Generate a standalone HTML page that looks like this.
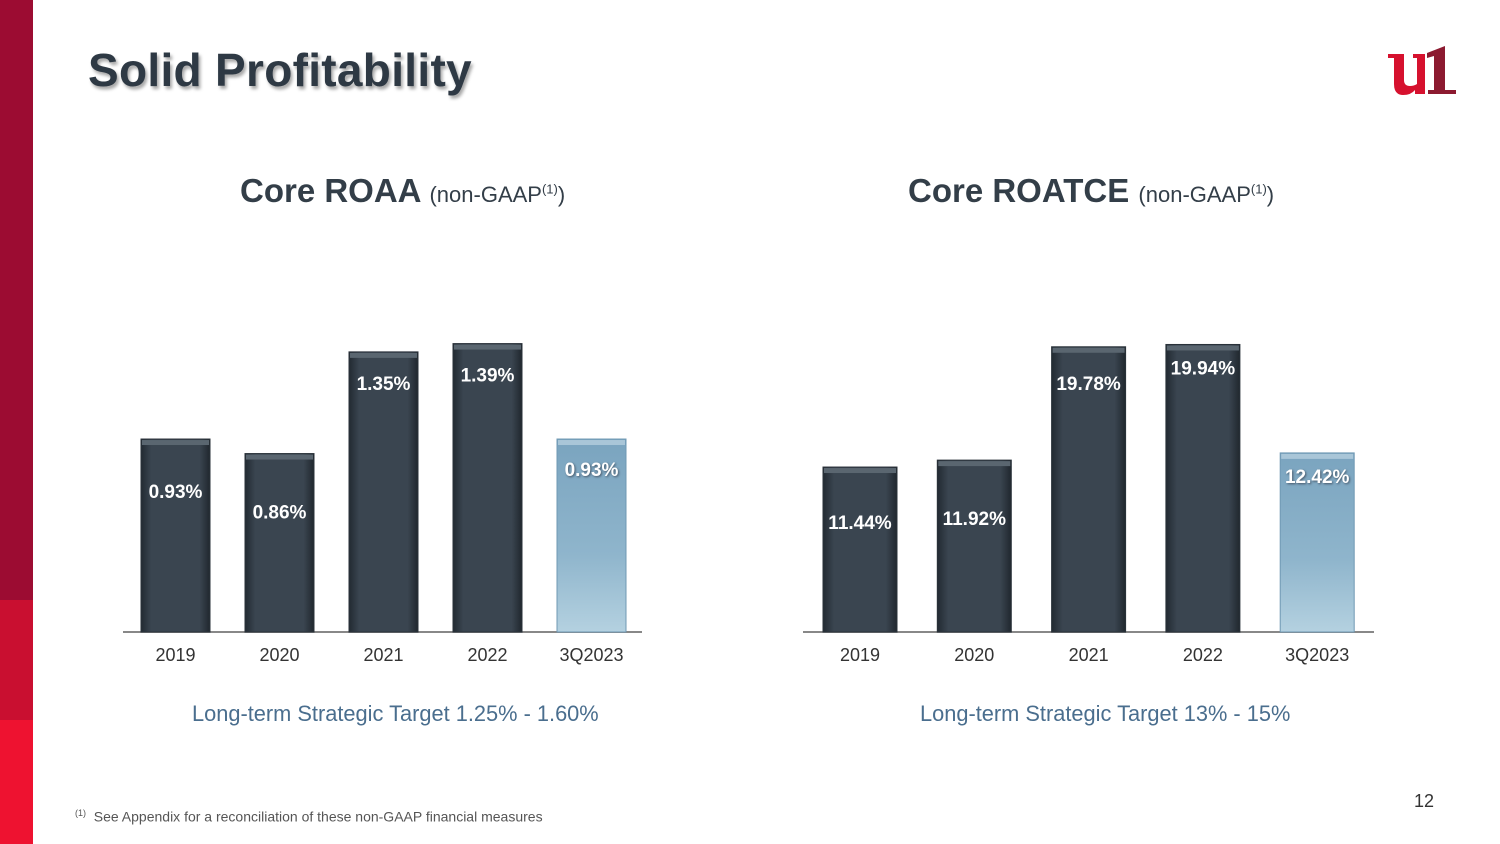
<!DOCTYPE html>
<html><head><meta charset="utf-8"><style>
body{margin:0;width:1500px;height:844px;background:#fff;overflow:hidden;position:relative;font-family:"Liberation Sans",Arial,sans-serif}
.abs{position:absolute}
</style></head><body>
<div class="abs" style="left:0;top:0;width:33px;height:844px;background:linear-gradient(#9c0c32 0,#9c0c32 600px,#c90f30 600px,#c90f30 720px,#ee1230 720px)"></div>
<div class="abs" style="left:88px;top:43px;font-size:46px;letter-spacing:0.3px;font-weight:bold;color:#2e3944;text-shadow:2px 3px 3px rgba(0,0,0,.35)">Solid Profitability</div>
<svg class="abs" style="left:1385px;top:44px" width="75" height="52" viewBox="0 0 75 52">
<path d="M3 10 H19 V36 Q19 42 25 42 Q29 42 32 40 V14 H28 V10 H40 V50 H30 V46 Q26 51 18 51 Q9 51 9 40 V14 H3Z" fill="#d6112e"/>
<path d="M43 50 V46 H49 V12 L42 14 V9 L60 2 V46 H71 V50Z" fill="#8c1a30"/>
</svg>
<div class="abs" style="left:240px;top:172px;font-size:33px;font-weight:bold;color:#333e48">Core ROAA <span style="font-size:22px;font-weight:normal">(non-GAAP<sup style="font-size:13px">(1)</sup>)</span></div>
<div class="abs" style="left:908px;top:172px;font-size:33px;font-weight:bold;color:#333e48">Core ROATCE <span style="font-size:22px;font-weight:normal">(non-GAAP<sup style="font-size:13px">(1)</sup>)</span></div>
<svg class="abs" id="charts" style="left:0;top:0" width="1500" height="844">
<defs>
<linearGradient id="dark" x1="0" y1="0" x2="1" y2="0"><stop offset="0" stop-color="#222a32"/><stop offset=".15" stop-color="#3a4550"/><stop offset=".85" stop-color="#3a4550"/><stop offset="1" stop-color="#20272e"/></linearGradient>
<linearGradient id="light" x1="0" y1="0" x2="0" y2="1"><stop offset="0" stop-color="#7aa4bf"/><stop offset=".6" stop-color="#8fb5cc"/><stop offset="1" stop-color="#b4d1e0"/></linearGradient>
</defs>
</svg>
<div class="abs" style="left:192px;top:701px;font-size:21.8px;color:#4a6e8e">Long-term Strategic Target 1.25% - 1.60%</div>
<div class="abs" style="left:920px;top:701px;font-size:21.8px;color:#4a6e8e">Long-term Strategic Target 13% - 15%</div>
<div class="abs" style="left:75px;top:808px;font-size:14px;color:#555"><sup style="font-size:9px">(1)</sup>&nbsp; See Appendix for a reconciliation of these non-GAAP financial measures</div>
<div class="abs" style="left:1414px;top:791px;font-size:18px;color:#333">12</div>
<script>
const categories=["2019","2020","2021","2022","3Q2023"];
const roaaValues=[0.93,0.86,1.35,1.39,0.93];
const roaaLabels=["0.93%","0.86%","1.35%","1.39%","0.93%"];
const roatceValues=[11.44,11.92,19.78,19.94,12.42];
const roatceLabels=["11.44%","11.92%","19.78%","19.94%","12.42%"];
const svg=document.getElementById('charts');
const NS='http://www.w3.org/2000/svg';
function mk(t,a){const e=document.createElementNS(NS,t);for(const k in a)e.setAttribute(k,a[k]);svg.appendChild(e);return e;}
function chart(prefix,vals,labels,x0,step,bw,scale,axL,axR,labOff){
  const base=632;
  const y=v=>base-v*scale;
  const x=i=>x0+i*step;
  const ax=mk('line',{x1:axL,x2:axR,y1:base,y2:base,stroke:'#888','stroke-width':2});
  
  
  vals.forEach((v,i)=>{
    const last=i===vals.length-1;
    const r=mk('rect',{x:x(i)-bw/2,y:y(v),width:bw,height:base-y(v),fill:last?'url(#light)':'url(#dark)',stroke:last?'#6f98b3':'#2a323a','stroke-width':1});
    
    
    const hl=mk('rect',{x:x(i)-bw/2+1,y:y(v)+1,width:bw-2,height:5,fill:last?'#a9c6d8':'#5a6670'});
    
    
    const t=mk('text',{x:x(i),y:y(v)+labOff[i],'text-anchor':'middle','font-size':19,'font-weight':'bold',fill:'#fff','font-family':'Liberation Sans, sans-serif'});
    t.textContent=labels[i];
    if(last)t.setAttribute('style','text-shadow:1px 1px 2px #456');
    
    
    const c=mk('text',{x:x(i),y:661,'text-anchor':'middle','font-size':18,fill:'#333','font-family':'Liberation Sans, sans-serif'});
    c.textContent=categories[i];
    
    
  });
}
chart('roaa',roaaValues,roaaLabels,175.5,104,69,207.5,123,642,[59,65,38,38,37]);
chart('roatce',roatceValues,roatceLabels,860,114.3,74,14.42,803,1374,[62,65,43,30,30]);
</script>
</body></html>
